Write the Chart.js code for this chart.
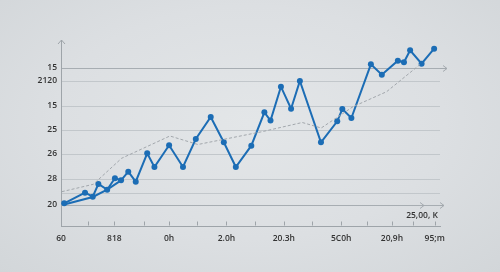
<!DOCTYPE html>
<html>
<head>
<meta charset="utf-8">
<script src="https://cdn.jsdelivr.net/npm/chart.js@4/dist/chart.umd.min.js"></script>
<style>
html,body{margin:0;padding:0;}
body{width:500px;height:272px;overflow:hidden;background:radial-gradient(ellipse at 50% 45%, #e3e6e8 0%, #dcdfe2 55%, #d2d6d9 100%);}
#wrap{position:relative;width:500px;height:272px;}
</style>
</head>
<body>
<div id="wrap"><canvas id="c" width="500" height="272"></canvas></div>
<script>
// Main series (x in tick units, y in axis units)
const mainX = [0.12,0.90,1.19,1.40,1.73,2.02,2.25,2.52,2.80,3.23,3.50,4.05,4.57,5.05,5.61,6.10,6.55,7.13,7.62,7.85,8.24,8.62,8.95,9.74,10.35,10.54,10.88,11.61,12.02,12.62,12.85,13.08,13.51,13.98];
const mainY = [22.7,33.3,29.3,42,36.3,47.7,45.7,54.3,44.3,72.7,59,80.7,59,87,109,83.7,59,80.3,113.7,105.5,139.3,117.3,145,83.7,104.7,117,108,161.7,151.3,165.3,163.7,175.7,162.3,177.3];
// Lower connecting strand at the start
const lowX = [0.12,1.19,1.73,2.25];
const lowY = [21.5,29,36.3,45.7];
// Dashed trend line
const trendX = [0.03,1.21,2.27,4.08,5.13,7.53,9.04,9.75,10.94,12.20,13.45];
const trendY = [34.3,41.7,67.7,90,81.5,94.3,103.5,98,119.3,134.3,161.5];
// Y tick values and labels
const yTickValues = [158,145,120,96,72,47,33,21];
const yTickLabels = ['15','2120','15','25','26','28','','20'];
// X tick values and labels
const xTickValues = [0,1,2,3.1,4.05,5.1,6.2,7.25,8.35,9.4,10.5,11.45,12.4,13.2,14];
const xTickLabels = ['60','','818','','0h','','2.0h','','20.3h','','5C0h','','20,9h','','95;m'];
const cornerLabel = '25,00, K';

const pts = (xs, ys) => xs.map((x,i)=>({x:x, y:ys[i]}));
const BLUE = '#1c6db5';
const FONT = {family:'"Open Sans", "Noto Sans", sans-serif', size:8.5, weight:'600'};

const deco = {
  id:'deco',
  afterDraw(chart){
    const ctx = chart.ctx, xs = chart.scales.x, ys = chart.scales.y, a = chart.chartArea;
    ctx.save();
    ctx.strokeStyle = '#9ea4a9'; ctx.lineWidth = 1;
    // y axis arrow
    const ax = Math.round(a.left)+0.5;
    ctx.beginPath(); ctx.moveTo(ax-3.5, a.top+4); ctx.lineTo(ax, a.top); ctx.lineTo(ax+3.5, a.top+4); ctx.stroke();
    // x axis tick marks (inward)
    const by = Math.round(a.bottom)-0.5;
    xTickValues.forEach(v=>{ const px=Math.round(xs.getPixelForValue(v))+0.5; ctx.beginPath(); ctx.moveTo(px,by); ctx.lineTo(px,by-4); ctx.stroke(); });
    // extension of top gridline with arrow
    const ty = Math.round(ys.getPixelForValue(yTickValues[0]))+0.5;
    ctx.strokeStyle = '#a3a9ae';
    ctx.beginPath(); ctx.moveTo(a.right, ty); ctx.lineTo(a.right+7, ty); ctx.stroke();
    ctx.beginPath(); ctx.moveTo(a.right+3, ty-3); ctx.lineTo(a.right+7, ty); ctx.lineTo(a.right+3, ty+3); ctx.stroke();
    // bottom gridline arrows
    const ly = Math.round(ys.getPixelForValue(yTickValues[7]))+0.5;
    ctx.beginPath(); ctx.moveTo(a.right, ly); ctx.lineTo(a.right+4, ly); ctx.stroke();
    [a.right-16, a.right+4].forEach(px=>{ ctx.beginPath(); ctx.moveTo(px-4, ly-3); ctx.lineTo(px, ly); ctx.lineTo(px-4, ly+3); ctx.stroke(); });
    // corner label
    ctx.fillStyle = '#333'; ctx.font = '600 8.5px "Open Sans", "Noto Sans", sans-serif';
    ctx.textAlign = 'center'; ctx.textBaseline = 'middle';
    ctx.fillText(cornerLabel, a.right-18, ly+10);
    ctx.restore();
  }
};

new Chart(document.getElementById('c'), {
  type:'line',
  data:{datasets:[
    {data:pts(trendX,trendY), borderColor:'#a2a7ac', borderWidth:1, borderDash:[3,2], pointRadius:0, tension:0},
    {data:pts(lowX,lowY), borderColor:BLUE, borderWidth:2, pointRadius:0, tension:0},
    {data:pts(mainX,mainY), borderColor:BLUE, backgroundColor:BLUE, borderWidth:2, pointRadius:3, pointBorderWidth:0, tension:0}
  ]},
  options:{
    responsive:false, animation:false,
    layout:{padding:{top:40, right:60, left:0, bottom:0}},
    plugins:{legend:{display:false}, tooltip:{enabled:false}},
    scales:{
      x:{type:'linear', min:0, max:14.2,
        afterFit(s){ s.height = 46; },
        afterBuildTicks(s){ s.ticks = xTickValues.map(v=>({value:v})); },
        ticks:{autoSkip:false, maxRotation:0, padding:7, color:'#333', font:FONT,
          callback(v, i){ return xTickLabels[i]; }},
        grid:{display:false, drawTicks:false},
        border:{display:true, color:'#9ea4a9', width:1}
      },
      y:{type:'linear', min:0, max:186,
        afterFit(s){ s.width = 61; },
        afterBuildTicks(s){ s.ticks = yTickValues.map(v=>({value:v})); },
        ticks:{autoSkip:false, padding:4, color:'#333', font:FONT,
          callback(v, i){ return yTickLabels[i]; }},
        grid:{drawTicks:false, lineWidth:1,
          color(c){ return (c.index===0||c.index===7) ? '#a7adb2' : '#c2c7cb'; }},
        border:{display:true, color:'#9ea4a9', width:1}
      }
    }
  },
  plugins:[deco]
});
</script>
</body>
</html>
